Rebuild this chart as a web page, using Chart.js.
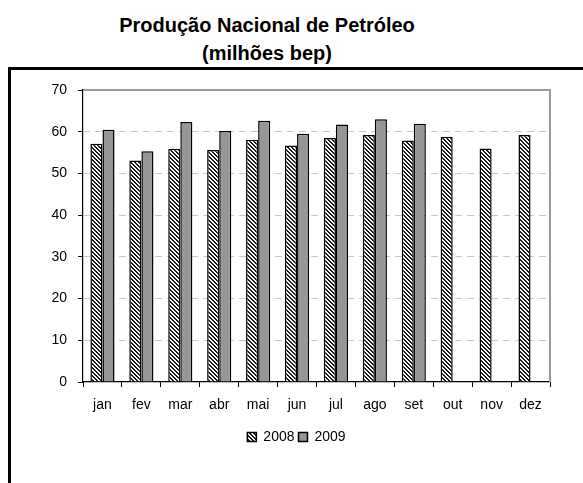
<!DOCTYPE html>
<html>
<head>
<meta charset="utf-8">
<script src="https://cdn.jsdelivr.net/npm/chart.js@4.4.1/dist/chart.umd.min.js"></script>
<style>
  body { margin: 0; background: #fff; width: 583px; height: 483px; overflow: hidden; position: relative; }
  #titulo { position: absolute; left: 0; top: 11px; width: 534px; text-align: center;
            font: bold 20px "Liberation Sans", Arial, sans-serif; line-height: 28px; color: #000; }
  #moldura { position: absolute; left: 8px; top: 67px; width: 700px; height: 600px;
             border-top: 3px solid #000; border-left: 3px solid #000; }
  #grafico { position: absolute; left: 0; top: 0; }
</style>
</head>
<body>
<div id="titulo">Produção Nacional de Petróleo<br>(milhões bep)</div>
<div id="moldura"></div>
<canvas id="grafico" width="583" height="483"></canvas>
<script>
// dados (milhões bep)
const meses = ['jan', 'fev', 'mar', 'abr', 'mai', 'jun', 'jul', 'ago', 'set', 'out', 'nov', 'dez'];
const producao2008 = [57.1, 53.1, 55.9, 55.6, 58.1, 56.7, 58.5, 59.2, 57.9, 58.8, 56.0, 59.2];
const producao2009 = [60.5, 55.3, 62.3, 60.2, 62.6, 59.5, 61.7, 63.0, 61.9, null, null, null];
const ticksY = [0, 10, 20, 30, 40, 50, 60, 70];

const fonte = { family: '"Liberation Sans", Arial, sans-serif', size: 14 };
const contexto = document.getElementById('grafico').getContext('2d');

// hachura diagonal da série 2008
function criarHachura() {
    const tile = document.createElement('canvas');
    tile.width = 4; tile.height = 4;
    const g = tile.getContext('2d');
    g.fillStyle = '#fff';
    g.fillRect(0, 0, 4, 4);
    g.fillStyle = '#1a1a1a';
    for (let y = 0; y < 4; y++) {
        for (let x = 0; x < 4; x++) {
            if ((((x - y) % 4) + 4) % 4 < 2) g.fillRect(x, y, 1, 1);
        }
    }
    return contexto.createPattern(tile, 'repeat');
}

// bordas cinza de cima e da direita da área do gráfico
const bordaArea = {
    id: 'bordaArea',
    beforeDatasetsDraw(chart) {
        const { ctx, chartArea: a } = chart;
        ctx.save();
        ctx.strokeStyle = '#9a9a9a';
        ctx.lineWidth = 2;
        ctx.beginPath();
        ctx.moveTo(a.left, a.top);
        ctx.lineTo(a.right, a.top);
        ctx.lineTo(a.right, a.bottom);
        ctx.stroke();
        ctx.restore();
    }
};

new Chart(contexto, {
    type: 'bar',
    data: {
        labels: meses,
        datasets: [
            { label: '2008', data: producao2008, backgroundColor: criarHachura(), borderColor: '#000', borderWidth: 1.5 },
            { label: '2009', data: producao2009, backgroundColor: '#969696', borderColor: '#000', borderWidth: 1.5 }
        ]
    },
    options: {
        responsive: false,
        animation: false,
        events: [],
        layout: { padding: { left: 43, right: 33, top: 90, bottom: 29 } },
        datasets: { bar: { categoryPercentage: 0.62, barPercentage: 1 } },
        scales: {
            x: {
                offset: true,
                grid: { display: true, drawOnChartArea: false, tickLength: 5, tickColor: '#000' },
                border: { color: '#000', width: 1.2 },
                ticks: { color: '#000', font: fonte, padding: 10, maxRotation: 0 },
                afterFit: s => { s.height = 44; }
            },
            y: {
                min: 0,
                max: 70,
                afterBuildTicks: s => { s.ticks = ticksY.map(v => ({ value: v })); },
                grid: {
                    color: c => (c.tick.value === 0 || c.tick.value === 70) ? 'rgba(0,0,0,0)' : '#c8c8c8',
                    tickLength: 5,
                    tickColor: '#000'
                },
                border: { color: '#000', width: 1.2, dash: [7, 5] },
                ticks: { color: '#000', font: fonte, padding: 11 },
                afterFit: s => { s.width = 40; }
            }
        },
        plugins: {
            legend: {
                position: 'bottom',
                labels: { color: '#000', font: fonte, boxWidth: 9, boxHeight: 9, padding: 4 }
            },
            tooltip: { enabled: false }
        }
    },
    plugins: [bordaArea]
});
</script>
</body>
</html>
